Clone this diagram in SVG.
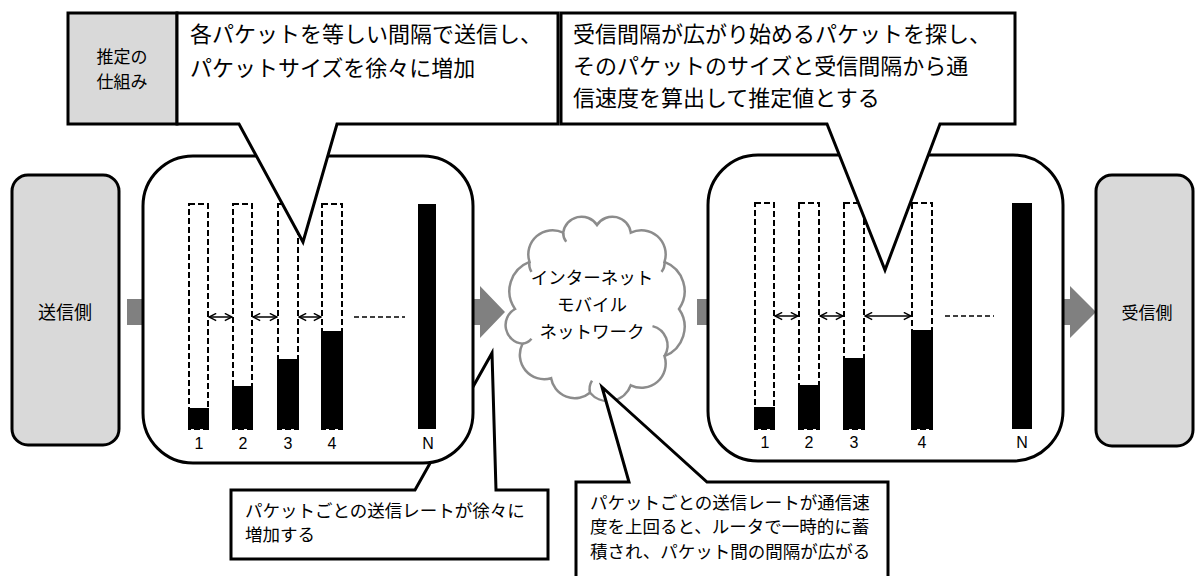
<svg xmlns="http://www.w3.org/2000/svg" width="1195" height="576" viewBox="0 0 1195 576">
<style>
text{font-family:"Noto Sans CJK JP","Noto Sans",sans-serif;fill:#000}
.box{fill:#d9d9d9;stroke:#000;stroke-width:3}
.panel{fill:#fff;stroke:#000;stroke-width:3}
.call{fill:#fff;stroke:#000;stroke-width:3;stroke-linejoin:miter}
.dash{fill:none;stroke:#000;stroke-width:2;stroke-dasharray:6 3}
.bar{fill:#000}
.gap{stroke:#000;stroke-width:1.5;fill:none;marker-start:url(#ah);marker-end:url(#ah)}
.dots{stroke:#000;stroke-width:1.5;stroke-dasharray:5 3}
.num{font-family:"Liberation Sans",Arial,sans-serif;font-size:16px;text-anchor:middle}
.garrow{fill:#808080}
.cloud{fill:#fff;stroke:#8c8c8c;stroke-width:2.5}
.cloudin{fill:none;stroke:#8c8c8c;stroke-width:2.5}
.t22{font-size:22px}
.t17{font-size:17.5px}
</style>
<defs>
<marker id="ah" viewBox="0 0 10 10" refX="9" refY="5" markerWidth="9" markerHeight="9" markerUnits="userSpaceOnUse" orient="auto-start-reverse">
<path d="M1,1 L9,5 L1,9" fill="none" stroke="#000" stroke-width="1.6"/>
</marker>
</defs>

<g id="connectors">
<polygon class="garrow" points="127,299 480,299 480,286 505,312 480,338 480,325 127,325"/>
<polygon class="garrow" points="697,299 1070,299 1070,286 1096,312 1070,338 1070,325 697,325"/>
</g>

<g id="sender">
<rect class="box" x="12" y="175" width="107" height="270" rx="16"/>
<text x="65" y="319" font-size="18" text-anchor="middle">送信側</text>
</g>

<g id="receiver">
<rect class="box" x="1096" y="175" width="97" height="271" rx="16"/>
<text x="1147" y="319" font-size="17" text-anchor="middle">受信側</text>
</g>

<g id="callout-send-rate">
<polygon class="call" points="231,490 415,490 492,353 496,490 548,490 548,559 231,559"/>
<text class="t17" x="245" y="517">パケットごとの送信レートが徐々に</text>
<text class="t17" x="245" y="541">増加する</text>
</g>

<g id="sender-panel">
<rect class="panel" x="143" y="156" width="330" height="307" rx="50"/>
<rect class="dash" x="189" y="204" width="19" height="225"/>
<rect class="dash" x="233" y="204" width="19" height="225"/>
<rect class="dash" x="278" y="204" width="20" height="225"/>
<rect class="dash" x="322" y="204" width="20" height="225"/>
<rect class="bar" x="188" y="408" width="21" height="21"/>
<rect class="bar" x="232" y="386" width="21" height="43"/>
<rect class="bar" x="277" y="359" width="22" height="70"/>
<rect class="bar" x="321" y="331" width="22" height="98"/>
<rect class="bar" x="418" y="204" width="18" height="225"/>
<line class="gap" x1="209" y1="317" x2="232" y2="317"/>
<line class="gap" x1="253" y1="317" x2="277" y2="317"/>
<line class="gap" x1="299" y1="317" x2="321" y2="317"/>
<line class="dots" x1="354" y1="317" x2="405" y2="317"/>
<text class="num" x="199" y="449">1</text>
<text class="num" x="243" y="449">2</text>
<text class="num" x="288" y="449">3</text>
<text class="num" x="332" y="449">4</text>
<text class="num" x="428" y="449">N</text>
</g>

<g id="receiver-panel">
<rect class="panel" x="708" y="155" width="355" height="306" rx="50"/>
<rect class="dash" x="755" y="203" width="19" height="226"/>
<rect class="dash" x="799" y="203" width="20" height="226"/>
<rect class="dash" x="844" y="203" width="20" height="226"/>
<rect class="dash" x="912" y="203" width="20" height="226"/>
<rect class="bar" x="754" y="407" width="21" height="22"/>
<rect class="bar" x="798" y="385" width="22" height="44"/>
<rect class="bar" x="843" y="358" width="22" height="71"/>
<rect class="bar" x="911" y="330" width="22" height="99"/>
<rect class="bar" x="1012" y="203" width="20" height="226"/>
<line class="gap" x1="775" y1="316" x2="798" y2="316"/>
<line class="gap" x1="820" y1="316" x2="843" y2="316"/>
<line class="gap" x1="865" y1="316" x2="911" y2="316"/>
<line class="dots" x1="945" y1="316" x2="994" y2="316"/>
<text class="num" x="765" y="448">1</text>
<text class="num" x="809" y="448">2</text>
<text class="num" x="854" y="448">3</text>
<text class="num" x="922" y="448">4</text>
<text class="num" x="1022" y="448">N</text>
</g>

<g id="network-cloud">
<path class="cloud" d="M515,309 A31.3,31.3 0 0 1 529.5,261.9 A24.2,24.2 0 0 1 563.2,232.7 A18.5,18.5 0 0 1 597,225 A18.5,18.5 0 0 1 630.8,232.7 A24.2,24.2 0 0 1 664.5,261.9 A31.3,31.3 0 0 1 679,309 A31.3,31.3 0 0 1 664.5,356.1 A24.2,24.2 0 0 1 630.8,385.3 A24,24 0 0 1 590,392.7 A24,24 0 0 1 551.1,378.2 A24.4,24.4 0 0 1 522.5,343.7 A18.6,18.6 0 0 1 515,309 Z"/>
<path class="cloudin" d="M529.5,261.9 a14,14 0 0 0 2,10"/>
<path class="cloudin" d="M563.2,232.7 a14,14 0 0 0 3,9"/>
<path class="cloudin" d="M664.5,261.9 a14,14 0 0 1 -3,10"/>
<path class="cloudin" d="M664.5,356.1 a20,20 0 0 0 -12,-30"/>
<path class="cloudin" d="M590,392.7 a16,16 0 0 1 2,-12"/>
<path class="cloudin" d="M522.5,343.7 a14,14 0 0 0 9,-5"/>
<text class="t17" x="592" y="284" text-anchor="middle">インターネット</text>
<text class="t17" x="592" y="311" text-anchor="middle">モバイル</text>
<text class="t17" x="592" y="338" text-anchor="middle">ネットワーク</text>
</g>

<g id="callout-router">
<polygon class="call" points="576,482 629,482 602,387 707,482 888,482 888,590 576,590"/>
<text class="t17" x="590" y="509">パケットごとの送信レートが通信速</text>
<text class="t17" x="590" y="533">度を上回ると、ルータで一時的に蓄</text>
<text class="t17" x="590" y="558">積され、パケット間の間隔が広がる</text>
</g>

<g id="mechanism-label">
<rect class="box" x="68" y="13" width="109" height="111"/>
<text x="122" y="63" font-size="17" text-anchor="middle">推定の</text>
<text x="122" y="88" font-size="17" text-anchor="middle">仕組み</text>
</g>

<g id="callout-send">
<polygon class="call" points="177,13 558,13 558,124 337,124 303,242 239,124 177,124"/>
<text class="t22" x="190" y="42">各パケットを等しい間隔で送信し、</text>
<text class="t22" x="190" y="76">パケットサイズを徐々に増加</text>
</g>

<g id="callout-receive">
<polygon class="call" points="561,13 1015,13 1015,124 940,124 885,270 827,124 561,124"/>
<text class="t22" x="573" y="42">受信間隔が広がり始めるパケットを探し、</text>
<text class="t22" x="573" y="74">そのパケットのサイズと受信間隔から通</text>
<text class="t22" x="573" y="106">信速度を算出して推定値とする</text>
</g>
</svg>
